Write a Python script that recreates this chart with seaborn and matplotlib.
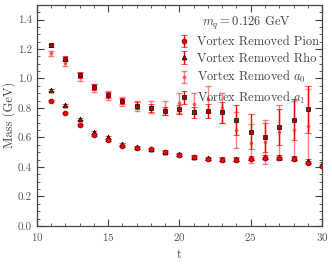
import numpy as np
import seaborn as sns
import matplotlib.pyplot as plt

t = np.arange(11, 31)
pion = [0.85, 0.765, 0.685, 0.615, 0.58, 0.545, 0.53, 0.52, 0.50, 0.48,
        0.465, 0.455, 0.45, 0.45, 0.455, 0.46, 0.46, 0.455, 0.43, 0.41]
pion_err = [0.006, 0.006, 0.006, 0.007, 0.007, 0.007, 0.007, 0.007, 0.008, 0.008,
            0.008, 0.008, 0.008, 0.009, 0.009, 0.009, 0.01, 0.01, 0.01, 0.012]
rho = [0.92, 0.82, 0.725, 0.635, 0.60, 0.555, 0.535, 0.52, 0.505, 0.485,
       0.47, 0.46, 0.455, 0.455, 0.46, 0.465, 0.47, 0.46, 0.44, 0.42]
rho_err = [0.008, 0.008, 0.009, 0.009, 0.01, 0.01, 0.01, 0.01, 0.01, 0.01,
           0.011, 0.011, 0.012, 0.012, 0.012, 0.013, 0.013, 0.014, 0.015, 0.015]

t_a = np.arange(11, 30)
a0 = [1.17, 1.105, 1.01, 0.935, 0.885, 0.845, 0.815, 0.805, 0.80, 0.835,
      0.83, 0.86, 0.80, 0.65, 0.56, 0.57, 0.64, 0.65, 0.68]
a0_err = [0.015, 0.02, 0.025, 0.025, 0.03, 0.03, 0.035, 0.04, 0.05, 0.07,
          0.07, 0.09, 0.1, 0.12, 0.13, 0.15, 0.18, 0.2, 0.25]
a1 = [1.225, 1.135, 1.025, 0.94, 0.89, 0.85, 0.815, 0.80, 0.78, 0.79,
      0.77, 0.78, 0.77, 0.72, 0.64, 0.60, 0.67, 0.72, 0.79]
a1_err = [0.01, 0.015, 0.02, 0.02, 0.02, 0.02, 0.025, 0.03, 0.03, 0.03,
          0.04, 0.05, 0.07, 0.1, 0.12, 0.1, 0.12, 0.14, 0.16]

sns.set_style("ticks")
plt.rcParams['font.family'] = 'serif'
plt.rcParams['font.serif'] = ['cmr10', 'DejaVu Serif']
plt.rcParams['mathtext.fontset'] = 'cm'
plt.rcParams['axes.formatter.use_mathtext'] = True
plt.rcParams['axes.unicode_minus'] = False

fig = plt.figure(figsize=(3.32, 2.64), dpi=100)
ax = fig.add_axes([0.111, 0.144, 0.859, 0.838])

ax.errorbar(t_a, a0, yerr=a0_err, fmt='o', color='#ff3030', alpha=0.6,
            markersize=1.8, capsize=2, elinewidth=1, label=r'Vortex Removed $a_0$')
ax.errorbar(t_a, a1, yerr=a1_err, fmt='s', color='red', markersize=3,
            markerfacecolor='#b00000', markeredgecolor='black', markeredgewidth=0.5,
            capsize=2, elinewidth=1, label=r'Vortex Removed $a_1$')
ax.errorbar(t, rho, yerr=rho_err, fmt='^', color='red', markersize=3.5,
            markerfacecolor='#b00000', markeredgecolor='black', markeredgewidth=0.5,
            capsize=2, elinewidth=1, label='Vortex Removed Rho')
ax.errorbar(t, pion, yerr=pion_err, fmt='o', color='red', markersize=3.5,
            markerfacecolor='red', markeredgecolor='#600000', markeredgewidth=0.5,
            capsize=2, elinewidth=1, label='Vortex Removed Pion')

ax.set_xlim(10, 30)
ax.set_ylim(0, 1.5)
ax.set_xticks([10, 15, 20, 25, 30])
ax.set_yticks([0.0, 0.2, 0.4, 0.6, 0.8, 1.0, 1.2, 1.4])
ax.set_yticklabels(['0.0', '0.2', '0.4', '0.6', '0.8', '1.0', '1.2', '1.4'])
ax.xaxis.set_minor_locator(plt.MultipleLocator(1))
ax.yaxis.set_minor_locator(plt.MultipleLocator(0.05))
ax.tick_params(which='both', direction='in', top=True, right=True,
               colors='#444444', labelcolor='#555555', labelsize=8)
ax.tick_params(which='major', length=5, width=0.8)
ax.tick_params(which='minor', length=2.5, width=0.6)
for s in ax.spines.values():
    s.set_color('#444444')
    s.set_linewidth(0.9)

ax.set_xlabel('t', fontsize=9, color='#444444')
ax.set_ylabel('Mass (GeV)', fontsize=9, color='#444444', labelpad=1)

h, l = ax.get_legend_handles_labels()
order = [3, 2, 0, 1]
leg = ax.legend([h[i] for i in order], [l[i] for i in order],
                loc='upper right', bbox_to_anchor=(1.025, 1.0), frameon=False,
                fontsize=9, title=r'$m_q = 0.126$ GeV', title_fontsize=9,
                handletextpad=0.3, handlelength=1.5, labelspacing=0.35,
                borderaxespad=0.4)
for txt in leg.get_texts():
    txt.set_color('#444444')
leg.get_title().set_color('#444444')

fig.savefig('out.png', dpi=100)
